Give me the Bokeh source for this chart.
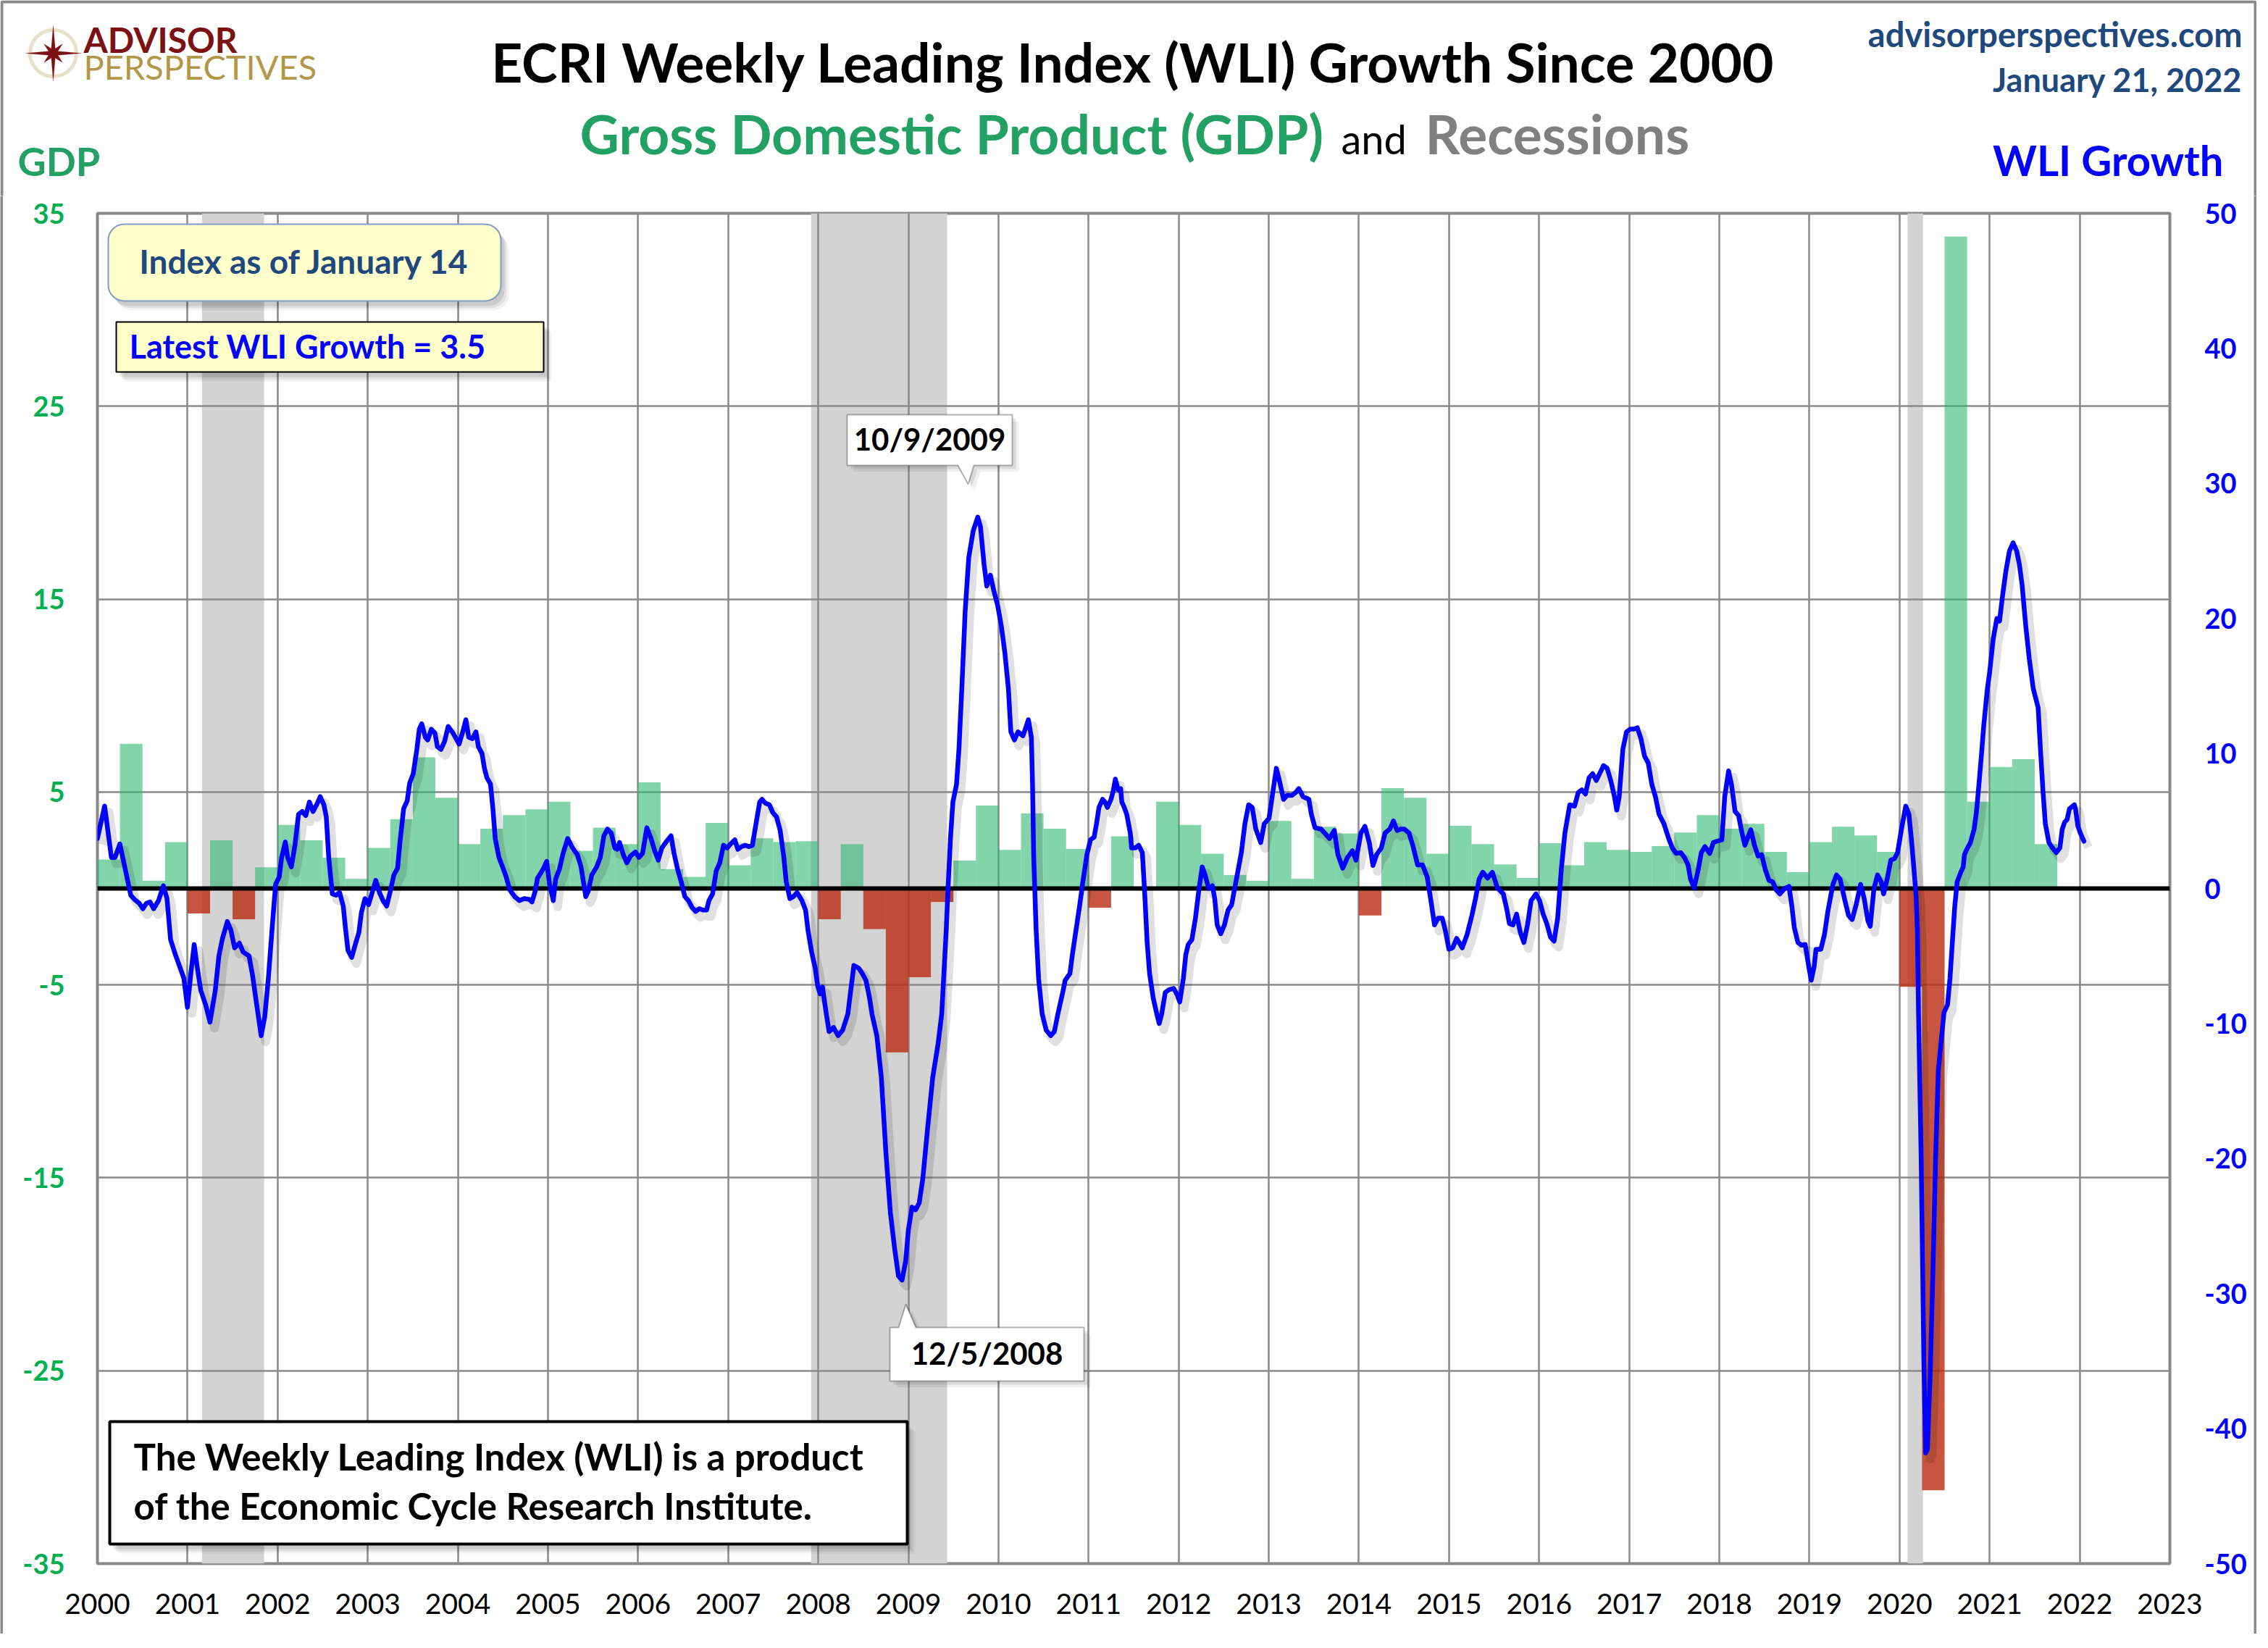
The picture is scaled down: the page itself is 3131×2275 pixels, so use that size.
import numpy as np
from bokeh.plotting import figure
from bokeh.layouts import column, row
from bokeh.models import (Range1d, LinearAxis, FixedTicker, Label, BoxAnnotation,
                          PolyAnnotation, ColumnDataSource)
from bokeh.embed import file_html
from bokeh.resources import INLINE

# ---------------- data ----------------
years = list(range(2000, 2024))
gdp_start_year = 2000
gdp_growth = [
    1.5, 7.5, 0.4, 2.4,      # 2000
    -1.3, 2.5, -1.6, 1.1,    # 2001
    3.3, 2.5, 1.6, 0.5,      # 2002
    2.1, 3.6, 6.8, 4.7,      # 2003
    2.3, 3.1, 3.8, 4.1,      # 2004
    4.5, 1.95, 3.15, 2.3,    # 2005
    5.5, 1.0, 0.6, 3.4,      # 2006
    1.2, 2.6, 2.4, 2.45,     # 2007
    -1.6, 2.3, -2.1, -8.5,   # 2008
    -4.6, -0.7, 1.45, 4.3,   # 2009
    2.0, 3.9, 3.1, 2.05,     # 2010
    -1.0, 2.7, -0.1, 4.5,    # 2011
    3.3, 1.8, 0.7, 0.4,      # 2012
    3.5, 0.5, 3.2, 2.85,     # 2013
    -1.4, 5.2, 4.7, 1.8,     # 2014
    3.25, 2.3, 1.25, 0.55,   # 2015
    2.35, 1.2, 2.4, 2.0,     # 2016
    1.9, 2.2, 2.9, 3.8,      # 2017
    3.1, 3.35, 1.9, 0.85,    # 2018
    2.4, 3.2, 2.75, 1.9,     # 2019
    -5.1, -31.2, 33.8, 4.5,  # 2020
    6.3, 6.7, 2.3,           # 2021
]

recession_start = [2001.16, 2007.92, 2020.09]
recession_end = [2001.85, 2009.43, 2020.26]

wli_date = [
    2000.000, 2000.080, 2000.155, 2000.196, 2000.249, 2000.316, 2000.370, 2000.410, 2000.464, 2000.504,
    2000.544, 2000.584, 2000.624, 2000.678, 2000.732, 2000.772, 2000.812, 2000.865, 2000.919, 2000.959,
    2000.999, 2001.040, 2001.074, 2001.107, 2001.147, 2001.200, 2001.249, 2001.308, 2001.348, 2001.388,
    2001.442, 2001.482, 2001.522, 2001.576, 2001.616, 2001.683, 2001.723, 2001.763, 2001.817, 2001.857,
    2001.897, 2001.937, 2001.977, 2002.018, 2002.044, 2002.085, 2002.111, 2002.152, 2002.192, 2002.232,
    2002.272, 2002.312, 2002.353, 2002.393, 2002.433, 2002.473, 2002.513, 2002.540, 2002.567, 2002.607,
    2002.647, 2002.688, 2002.728, 2002.755, 2002.781, 2002.822, 2002.862, 2002.902, 2002.929, 2002.969,
    2003.009, 2003.049, 2003.089, 2003.130, 2003.170, 2003.210, 2003.250, 2003.290, 2003.331, 2003.357,
    2003.398, 2003.438, 2003.465, 2003.505, 2003.545, 2003.572, 2003.599, 2003.639, 2003.666, 2003.706,
    2003.746, 2003.773, 2003.813, 2003.853, 2003.893, 2003.947, 2004.014, 2004.054, 2004.089, 2004.121,
    2004.161, 2004.201, 2004.228, 2004.268, 2004.295, 2004.322, 2004.362, 2004.389, 2004.415, 2004.456,
    2004.496, 2004.536, 2004.576, 2004.630, 2004.683, 2004.737, 2004.791, 2004.823, 2004.858, 2004.884,
    2004.925, 2004.951, 2004.986, 2005.018, 2005.059, 2005.085, 2005.126, 2005.166, 2005.219, 2005.273,
    2005.327, 2005.367, 2005.420, 2005.447, 2005.487, 2005.541, 2005.581, 2005.621, 2005.661, 2005.702,
    2005.742, 2005.769, 2005.795, 2005.836, 2005.876, 2005.916, 2005.970, 2006.010, 2006.050, 2006.098,
    2006.144, 2006.184, 2006.224, 2006.264, 2006.318, 2006.366, 2006.398, 2006.439, 2006.479, 2006.519,
    2006.559, 2006.599, 2006.640, 2006.680, 2006.720, 2006.760, 2006.787, 2006.827, 2006.867, 2006.907,
    2006.948, 2006.988, 2007.028, 2007.074, 2007.108, 2007.149, 2007.189, 2007.229, 2007.269, 2007.309,
    2007.350, 2007.376, 2007.417, 2007.457, 2007.497, 2007.537, 2007.577, 2007.618, 2007.644, 2007.685,
    2007.725, 2007.765, 2007.819, 2007.859, 2007.886, 2007.926, 2007.966, 2007.993, 2008.020, 2008.047,
    2008.087, 2008.120, 2008.170, 2008.220, 2008.270, 2008.328, 2008.395, 2008.449, 2008.489, 2008.529,
    2008.569, 2008.596, 2008.650, 2008.700, 2008.750, 2008.800, 2008.850, 2008.890, 2008.930, 2008.970,
    2009.000, 2009.040, 2009.080, 2009.120, 2009.160, 2009.210, 2009.270, 2009.330, 2009.370, 2009.420,
    2009.440, 2009.467, 2009.494, 2009.534, 2009.561, 2009.593, 2009.630, 2009.670, 2009.720, 2009.770,
    2009.800, 2009.840, 2009.870, 2009.910, 2009.950, 2009.990, 2010.030, 2010.070, 2010.110, 2010.137,
    2010.177, 2010.217, 2010.271, 2010.297, 2010.332, 2010.365, 2010.378, 2010.391, 2010.418, 2010.445,
    2010.485, 2010.530, 2010.580, 2010.620, 2010.659, 2010.713, 2010.740, 2010.793, 2010.820, 2010.860,
    2010.900, 2010.941, 2010.981, 2011.021, 2011.061, 2011.088, 2011.115, 2011.155, 2011.182, 2011.209,
    2011.249, 2011.276, 2011.297, 2011.329, 2011.356, 2011.369, 2011.396, 2011.423, 2011.463, 2011.477,
    2011.517, 2011.557, 2011.597, 2011.623, 2011.650, 2011.677, 2011.717, 2011.757, 2011.784, 2011.811,
    2011.851, 2011.891, 2011.945, 2011.985, 2012.012, 2012.052, 2012.079, 2012.106, 2012.146, 2012.186,
    2012.226, 2012.261, 2012.293, 2012.333, 2012.374, 2012.400, 2012.427, 2012.467, 2012.508, 2012.548,
    2012.588, 2012.615, 2012.655, 2012.695, 2012.735, 2012.776, 2012.816, 2012.856, 2012.910, 2012.950,
    2013.003, 2013.044, 2013.084, 2013.124, 2013.164, 2013.204, 2013.258, 2013.298, 2013.333, 2013.379,
    2013.445, 2013.472, 2013.513, 2013.579, 2013.633, 2013.673, 2013.727, 2013.767, 2013.821, 2013.874,
    2013.928, 2013.968, 2014.022, 2014.067, 2014.115, 2014.156, 2014.196, 2014.249, 2014.290, 2014.343,
    2014.383, 2014.424, 2014.464, 2014.504, 2014.557, 2014.598, 2014.651, 2014.705, 2014.758, 2014.799,
    2014.839, 2014.879, 2014.925, 2014.959, 2014.999, 2015.040, 2015.085, 2015.147, 2015.201, 2015.254,
    2015.294, 2015.335, 2015.375, 2015.428, 2015.482, 2015.536, 2015.603, 2015.643, 2015.670, 2015.710,
    2015.750, 2015.791, 2015.831, 2015.871, 2015.911, 2015.965, 2016.005, 2016.045, 2016.085, 2016.126,
    2016.166, 2016.206, 2016.246, 2016.286, 2016.340, 2016.393, 2016.434, 2016.474, 2016.514, 2016.554,
    2016.594, 2016.635, 2016.675, 2016.715, 2016.755, 2016.795, 2016.836, 2016.862, 2016.889, 2016.929,
    2016.970, 2017.010, 2017.050, 2017.090, 2017.130, 2017.170, 2017.211, 2017.251, 2017.291, 2017.331,
    2017.385, 2017.438, 2017.479, 2017.519, 2017.572, 2017.613, 2017.653, 2017.680, 2017.720, 2017.760,
    2017.800, 2017.840, 2017.894, 2017.934, 2017.974, 2018.028, 2018.060, 2018.103, 2018.135, 2018.175,
    2018.215, 2018.242, 2018.283, 2018.323, 2018.350, 2018.390, 2018.430, 2018.470, 2018.510, 2018.551,
    2018.591, 2018.631, 2018.671, 2018.725, 2018.773, 2018.805, 2018.832, 2018.872, 2018.912, 2018.953,
    2018.993, 2019.020, 2019.052, 2019.073, 2019.127, 2019.167, 2019.207, 2019.261, 2019.300, 2019.340,
    2019.394, 2019.434, 2019.474, 2019.515, 2019.568, 2019.608, 2019.649, 2019.675, 2019.716, 2019.756,
    2019.796, 2019.823, 2019.863, 2019.903, 2019.943, 2019.978, 2020.024, 2020.069, 2020.104, 2020.131,
    2020.158, 2020.184, 2020.198, 2020.211, 2020.240, 2020.270, 2020.290, 2020.310, 2020.340, 2020.370,
    2020.400, 2020.430, 2020.493, 2020.533, 2020.560, 2020.586, 2020.613, 2020.640, 2020.680, 2020.707,
    2020.720, 2020.747, 2020.787, 2020.828, 2020.854, 2020.881, 2020.908, 2020.935, 2020.975, 2021.000,
    2021.040, 2021.080, 2021.110, 2021.140, 2021.180, 2021.220, 2021.260, 2021.300, 2021.330, 2021.360,
    2021.400, 2021.440, 2021.484, 2021.511, 2021.538, 2021.564, 2021.591, 2021.618, 2021.658, 2021.698,
    2021.739, 2021.779, 2021.806, 2021.832, 2021.859, 2021.886, 2021.940, 2021.953, 2021.980, 2022.007,
    2022.047,
]
wli_growth = [
    3.7, 6.1, 2.3, 2.3, 3.3, 1.2, -0.5, -0.8, -1.1, -1.5,
    -1.1, -1.0, -1.5, -0.9, 0.2, -0.75, -3.8, -4.9, -5.9, -6.65,
    -8.8, -6.1, -4.15, -5.8, -7.55, -8.6, -9.9, -7.55, -5.0, -3.7,
    -2.45, -3.1, -4.4, -4.05, -4.7, -5.0, -6.5, -8.4, -10.9, -9.5,
    -6.65, -3.1, 0.3, 0.86, 2.3, 3.45, 2.3, 1.6, 3.2, 5.5,
    5.7, 5.4, 6.4, 5.7, 6.2, 6.8, 6.2, 5.3, 2.3, -0.4,
    -0.5, -0.3, -1.3, -3.1, -4.6, -5.1, -4.15, -3.25, -1.8, -0.75,
    -1.2, -0.3, 0.6, -0.3, -0.9, -1.3, -0.2, 1.0, 1.5, 3.4,
    5.9, 6.5, 7.8, 8.5, 10.3, 11.8, 12.2, 11.2, 11.0, 11.8,
    11.5, 10.5, 10.3, 10.9, 12.0, 11.5, 10.7, 11.6, 12.5, 11.2,
    11.1, 11.6, 10.5, 10.0, 8.9, 8.2, 7.75, 5.9, 3.7, 2.3,
    1.6, 0.86, -0.1, -0.6, -0.9, -0.75, -0.8, -1.0, -0.2, 0.77,
    1.2, 1.5, 2.0, 0.3, -0.9, 0.7, 1.4, 2.55, 3.7, 3.0,
    2.5, 1.6, -0.6, -0.2, 1.0, 1.6, 2.3, 3.9, 4.4, 4.1,
    3.0, 2.9, 3.4, 2.5, 1.9, 2.4, 2.7, 2.3, 2.6, 4.5,
    3.7, 2.8, 2.1, 3.0, 3.5, 3.9, 2.65, 1.4, 0.5, -0.6,
    -0.9, -1.4, -1.7, -1.5, -1.6, -1.6, -0.9, -0.4, 1.3, 1.9,
    3.2, 3.0, 3.3, 3.6, 2.9, 3.1, 3.2, 3.1, 3.2, 4.8,
    6.4, 6.6, 6.3, 6.2, 5.6, 5.3, 4.3, 2.3, 0.5, -0.75,
    -0.6, -0.3, -0.9, -1.6, -3.1, -4.7, -5.9, -7.2, -7.8, -7.3,
    -9.2, -10.6, -10.3, -10.9, -10.5, -9.3, -5.7, -5.9, -6.3, -6.8,
    -8.1, -9.3, -10.9, -14.0, -19.5, -24.0, -26.8, -28.7, -29.0, -27.6,
    -25.3, -23.6, -23.8, -23.3, -21.5, -18.0, -14.0, -11.5, -9.3, -3.1,
    0.0, 3.7, 6.4, 7.7, 10.3, 14.8, 20.5, 24.5, 26.5, 27.5,
    26.8, 24.0, 22.4, 23.2, 22.0, 21.0, 19.5, 17.5, 14.8, 11.6,
    11.0, 11.6, 11.3, 11.8, 12.5, 11.2, 7.7, 2.3, -3.1, -6.65,
    -9.3, -10.5, -10.9, -10.6, -9.3, -7.7, -6.8, -6.3, -4.9, -3.1,
    -1.3, 0.7, 2.5, 3.6, 3.8, 4.8, 6.0, 6.6, 6.4, 6.0,
    6.6, 7.3, 8.1, 7.3, 7.4, 6.4, 6.0, 5.5, 4.1, 3.0,
    3.0, 3.2, 2.65, -0.4, -4.0, -6.3, -8.1, -9.3, -10.0, -9.3,
    -7.7, -7.5, -7.4, -7.9, -8.4, -6.65, -4.9, -4.15, -3.8, -2.2,
    0.0, 1.6, 1.0, 0.0, 0.2, -0.75, -2.7, -3.35, -2.7, -1.6,
    -1.2, -0.2, 1.2, 2.65, 4.8, 6.2, 6.0, 4.4, 3.4, 4.8,
    5.2, 7.1, 8.9, 7.8, 6.6, 6.9, 6.9, 7.1, 7.4, 6.8,
    6.6, 5.5, 4.5, 4.4, 4.0, 3.7, 4.3, 2.5, 1.5, 2.3,
    2.8, 2.1, 4.1, 4.6, 3.4, 1.7, 2.5, 3.0, 4.1, 4.4,
    5.0, 4.3, 4.4, 4.4, 4.1, 3.2, 1.75, 1.75, 0.86, -0.9,
    -2.7, -2.2, -2.2, -3.1, -4.5, -4.4, -3.7, -4.4, -3.4, -2.0,
    -0.75, 0.7, 1.2, 0.77, 1.2, 0.05, -0.4, -1.6, -2.6, -2.7,
    -1.9, -3.25, -4.0, -2.7, -0.9, -0.4, -0.9, -1.9, -2.6, -3.6,
    -3.9, -2.2, 1.4, 4.1, 6.2, 6.1, 7.1, 7.3, 7.0, 8.2,
    8.5, 8.0, 8.55, 9.1, 8.9, 8.0, 6.8, 5.8, 6.8, 10.3,
    11.6, 11.8, 11.8, 11.9, 11.1, 9.8, 9.3, 7.7, 6.8, 5.5,
    4.8, 3.7, 3.0, 2.6, 2.65, 2.3, 1.75, 0.7, 0.05, 1.2,
    2.65, 3.1, 2.6, 3.4, 3.5, 3.6, 6.8, 8.7, 7.7, 5.7,
    5.4, 4.4, 3.2, 3.9, 4.35, 3.2, 2.4, 2.5, 1.4, 0.6,
    0.5, -0.1, -0.4, 0.0, 0.15, -1.3, -2.9, -4.0, -4.2, -4.15,
    -5.8, -6.8, -5.8, -4.5, -4.5, -3.4, -1.6, 0.3, 1.0, 0.7,
    -0.9, -2.0, -2.3, -1.3, 0.3, -0.75, -2.4, -2.8, 0.0, 1.0,
    0.5, -0.4, 0.7, 2.1, 2.2, 2.65, 4.5, 6.1, 5.5, 3.7,
    1.6, -0.6, -3.1, -9.3, -20.0, -35.0, -41.8, -41.5, -36.0, -28.5,
    -20.0, -13.5, -9.2, -8.6, -6.65, -4.0, -1.3, 0.5, 1.2, 1.6,
    2.5, 2.9, 3.4, 4.4, 5.7, 7.7, 9.8, 12.1, 14.8, 16.0,
    18.5, 20.0, 19.8, 21.5, 23.5, 25.0, 25.6, 25.0, 24.0, 22.5,
    19.5, 17.0, 14.8, 14.1, 13.4, 10.3, 7.3, 4.8, 3.4, 3.0,
    2.65, 3.0, 4.4, 4.9, 5.1, 5.9, 6.2, 5.9, 4.6, 4.1,
    3.5,
]

left_ticks = [-35, -25, -15, -5, 5, 15, 25, 35]
right_ticks = [-50, -40, -30, -20, -10, 0, 10, 20, 30, 40, 50]

# ---------------- layout geometry (pixels) ----------------
W, H = 3115, 2259
BW = 4                          # outer border width
HEAD = 270                      # header strip height
MW = W - 2 * BW                 # main figure width
MH = H - HEAD - BW              # main figure height
OX, OY = BW, HEAD               # page offset of main figure
FL, FT, FR, FB = 134 - OX, 294 - OY, 2995 - OX, 2158 - OY
BASE_K = 0.39                   # label anchor correction (fraction of font size)
GREY = "#8a8a8a"

def no_align(fig):
    try:
        fig.frame_align = False
    except Exception:
        pass

# ---------------- helpers ----------------
def txt(fig, x, y, s, size, color, bold=True, align="left", font="Lato"):
    fig.add_layout(Label(x=x, y=y - BASE_K * size, x_units="canvas", y_units="canvas", text=s,
                         text_font=font, text_font_size=f"{size}px", text_color=color,
                         text_font_style="bold" if bold else "normal",
                         text_align=align, text_baseline="alphabetic"))

def box(fig, l, t, r, b, fill, line, lw=2, radius=0, shadow=True):
    if shadow:
        for k, a in ((11, 0.05), (8, 0.07), (5, 0.09)):
            fig.add_layout(BoxAnnotation(left=l + k, right=r + k, top=t + k + 2, bottom=b + k + 2,
                                         left_units="canvas", right_units="canvas",
                                         top_units="canvas", bottom_units="canvas",
                                         fill_color="black", fill_alpha=a, line_color=None,
                                         border_radius=radius))
    fig.add_layout(BoxAnnotation(left=l, right=r, top=t, bottom=b,
                                 left_units="canvas", right_units="canvas",
                                 top_units="canvas", bottom_units="canvas",
                                 fill_color=fill, fill_alpha=1 if fill else 0, line_color=line,
                                 line_width=lw, line_alpha=1, border_radius=radius))

def poly(fig, xs, ys, fill, line, lw=2, falpha=1.0):
    fig.add_layout(PolyAnnotation(xs=list(xs), ys=list(ys), xs_units="canvas", ys_units="canvas",
                                  fill_color=fill, fill_alpha=falpha, line_color=line,
                                  line_width=lw))

def strip(w, h):
    s = figure(width=w, height=h, output_backend="svg", toolbar_location=None, title=None,
               x_axis_location=None, y_axis_location=None, min_border=0,
               min_border_left=0, min_border_right=0, min_border_top=0, min_border_bottom=0,
               background_fill_color=GREY, border_fill_color=GREY)
    s.grid.visible = False
    s.outline_line_color = None
    no_align(s)
    return s

# ---------------- header ----------------
hd = figure(width=W, height=HEAD, output_backend="svg", toolbar_location=None, title=None,
            x_axis_location=None, y_axis_location=None, min_border=0,
            min_border_left=0, min_border_right=0, min_border_top=0, min_border_bottom=0,
            x_range=Range1d(0, W), y_range=Range1d(HEAD, 0))
hd.grid.visible = False
hd.outline_line_color = None
no_align(hd)

# outer frame (top part)
box(hd, BW / 2, BW / 2, W - BW / 2, HEAD + 20, None, GREY, lw=BW, shadow=False)

txt(hd, 1564, 114, "ECRI Weekly Leading Index (WLI) Growth Since 2000", 75, "black", align="center")
txt(hd, 800, 213, "Gross Domestic Product (GDP)", 75, "#23A064")
txt(hd, 1851, 213, "and", 56, "black", bold=False)
txt(hd, 1967, 213, "Recessions", 75, "#808080")
txt(hd, 3095, 65, "advisorperspectives.com", 47, "#1F497D", align="right")
txt(hd, 3095, 127, "January 21, 2022", 45, "#1F497D", align="right")
txt(hd, 3069, 243, "WLI Growth", 58, "#0000FF", align="right")
txt(hd, 24, 243, "GDP", 54, "#23A064")

# logo
cx, cy = 73, 73
t = np.linspace(0, 2 * np.pi, 90)
poly(hd, cx + 32 * np.cos(t), cy + 32 * np.sin(t), None, "#B39749", lw=5)
ang = np.arange(16) * np.pi / 8
rad = np.where(np.arange(16) % 4 == 0, 38, np.where(np.arange(16) % 2 == 0, 18, 7))
poly(hd, cx + rad * np.sin(ang), cy - rad * np.cos(ang), "#7B1113", "#7B1113", lw=1)
txt(hd, 115, 73, "ADVISOR", 48, "#7B1113")
txt(hd, 115, 110, "PERSPECTIVES", 47, "#B39749", bold=False)

# ---------------- main chart ----------------
p = figure(width=MW, height=MH, output_backend="svg", toolbar_location=None, title=None,
           x_range=Range1d(years[0], years[-1]), y_range=Range1d(-35, 35),
           min_border_left=FL, min_border_right=MW - FR, min_border_top=FT,
           min_border_bottom=MH - FB, background_fill_color="white",
           border_fill_color="white")
no_align(p)
p.extra_y_ranges = {"wli": Range1d(-50, 50)}

p.outline_line_color = "#888888"
p.outline_line_width = 4

p.xgrid.ticker = FixedTicker(ticks=years)
p.ygrid.ticker = FixedTicker(ticks=left_ticks)
for g in (p.xgrid, p.ygrid):
    g.grid_line_color = GREY
    g.grid_line_width = 2.5

xa = p.xaxis[0]
xa.ticker = FixedTicker(ticks=years)
xa.major_label_text_font = "Lato"
xa.major_label_text_font_size = "39px"
xa.major_label_text_color = "black"
xa.major_label_standoff = 35

ya = p.yaxis[0]
ya.ticker = FixedTicker(ticks=left_ticks)
ya.major_label_overrides = {v: str(v) for v in left_ticks}
ya.major_label_text_font = "Lato"
ya.major_label_text_font_style = "bold"
ya.major_label_text_font_size = "38px"
ya.major_label_text_color = "#00B050"
ya.major_label_standoff = 39

ra = LinearAxis(y_range_name="wli", ticker=FixedTicker(ticks=right_ticks))
ra.major_label_overrides = {v: str(v) for v in right_ticks}
ra.major_label_text_font = "Lato"
ra.major_label_text_font_style = "bold"
ra.major_label_text_font_size = "38px"
ra.major_label_text_color = "#0000FF"
ra.major_label_standoff = 42
p.add_layout(ra, "right")

for ax in (xa, ya, ra):
    ax.axis_line_color = None
    ax.major_tick_line_color = None
    ax.minor_tick_line_color = None

# recession shading (under grid)
p.quad(left=recession_start, right=recession_end, bottom=-35, top=35,
       fill_color="#D3D3D3", line_color=None, level="image")

# GDP bars
gdp_x = [gdp_start_year + 0.125 + 0.25 * i for i in range(len(gdp_growth))]
gdp_col = ["#2EB872" if v >= 0 else "#BA2A11" for v in gdp_growth]
gdp_alpha = [0.6 if v >= 0 else 0.8 for v in gdp_growth]
src = ColumnDataSource(dict(x=gdp_x, top=gdp_growth, color=gdp_col, alpha=gdp_alpha))
p.vbar(x="x", top="top", bottom=0, width=0.25, source=src, fill_color="color",
       fill_alpha="alpha", line_color=None)

# zero line
p.hspan(y=[0], line_color="black", line_width=6)

# WLI line with soft shadow
wx = np.array(wli_date)
wy = np.array(wli_growth)
p.line(wx + 0.05, wy - 0.45, y_range_name="wli", line_color="black", line_alpha=0.12,
       line_width=12, line_join="round")
p.line(wx, wy, y_range_name="wli", line_color="#0000FF", line_width=6.5,
       line_join="round", line_cap="round")

# annotations inside the chart (given in page px, shifted to the main figure)
def bx(l, t, r, b, *a, **k):
    box(p, l - OX, t - OY, r - OX, b - OY, *a, **k)

def tx(x, y, *a, **k):
    txt(p, x - OX, y - OY, *a, **k)

def pg(xs, ys, *a, **k):
    poly(p, [v - OX for v in xs], [v - OY for v in ys], *a, **k)

bx(149, 309, 691, 415, "#FFFFCC", "#7F9CC8", lw=2, radius=22)
tx(420, 378, "Index as of January 14", 46, "#1F497D", align="center")
bx(160, 444, 750, 513, "#FFFFCC", "black", lw=2)
tx(178, 495, "Latest WLI Growth = 3.5", 45, "#0000FF")
bx(151, 1962, 1252, 2131, "white", "black", lw=4)
tx(184, 2030, "The Weekly Leading Index (WLI) is a product", 51, "black")
tx(184, 2098, "of the Economic Cycle Research Institute.", 51, "black")

# callouts
c1x = [1169, 1397, 1397, 1344, 1336, 1322, 1169]
c1y = [572, 572, 642, 642, 668, 642, 642]
c2x = [1228, 1240, 1250, 1264, 1496, 1496, 1228]
c2y = [1832, 1832, 1800, 1832, 1832, 1906, 1906]
for xs, ys in ((c1x, c1y), (c2x, c2y)):
    for k, a in ((9, 0.06), (5, 0.09)):
        pg([v + k for v in xs], [v + k for v in ys], "black", None, lw=0, falpha=a)
    pg(xs, ys, "white", "black", lw=2)
tx(1283, 622, "10/9/2009", 42, "black", align="center")
tx(1362, 1884, "12/5/2008", 42, "black", align="center")

layout = column(hd, row(strip(BW, MH), p, strip(BW, MH), spacing=0), strip(W, BW), spacing=0)
open("out.html", "w").write(file_html(layout, INLINE))
